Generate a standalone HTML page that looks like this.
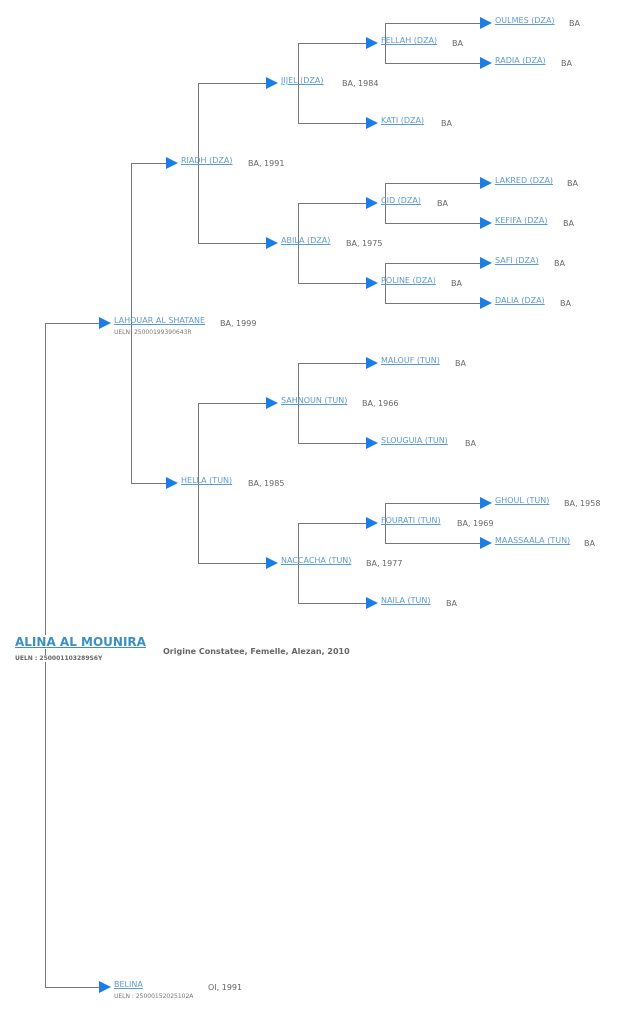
<!DOCTYPE html>
<html><head><meta charset="utf-8"><style>
body{margin:0;width:622px;height:1017px;background:#fff;position:relative;overflow:hidden;font-family:"DejaVu Sans","Liberation Sans",sans-serif}
.l{position:absolute;background:#777}
.a{position:absolute;width:0;height:0;border-top:6px solid transparent;border-bottom:6px solid transparent;border-left:12px solid #1a7ee6}
.n{position:absolute;font-size:8px;color:#5b9bd0;text-decoration:underline;white-space:nowrap;line-height:10px}
.s{position:absolute;font-size:8px;color:#666;white-space:nowrap;line-height:10px}
.u{position:absolute;font-size:6px;color:#777;white-space:nowrap}
</style></head><body>
<div id="c"></div>
<div style="position:absolute;left:13px;top:635px;background:#fff;font-size:12px;font-weight:bold;color:#3a8fc8;text-decoration:underline;padding:0 2px">ALINA AL MOUNIRA</div>
<div style="position:absolute;left:15px;top:655px;background:#fff;font-size:6px;font-weight:bold;color:#666">UELN : 250001103289S6Y</div>
<div style="position:absolute;left:163px;top:647px;font-size:8px;font-weight:bold;color:#666">Origine Constatee, Femelle, Alezan, 2010</div>
<script>
var h='';
function L(x,y,w,hh){h+='<div class="l" style="left:'+x+'px;top:'+y+'px;width:'+w+'px;height:'+hh+'px"></div>';}
function N(ax,cy,name,suf,sx,vx,sub){
 L(vx,cy,ax-vx,1);
 h+='<div class="a" style="left:'+ax+'px;top:'+(cy-6)+'px"></div>';
 h+='<div class="n" style="left:'+(ax+15)+'px;top:'+(cy-7)+'px">'+name+'</div>';
 h+='<div class="s" style="left:'+sx+'px;top:'+(cy-4)+'px">'+suf+'</div>';
 if(sub)h+='<div class="u" style="left:'+(ax+15)+'px;top:'+(cy+6)+'px">'+sub+'</div>';
}
L(45,323,1,665);
L(131,163,1,320);
L(198,83,1,160);L(198,403,1,160);
L(298,43,1,80);L(298,203,1,80);L(298,363,1,80);L(298,523,1,80);
L(385,23,1,40);L(385,183,1,40);L(385,263,1,40);L(385,503,1,40);
N(99,323,'LAHOUAR AL SHATANE','BA, 1999',220,45,'UELN: 25000199390643R');
N(99,987,'BELINA','OI, 1991',208,45,'UELN : 25000152025102A');
N(166,163,'RIADH (DZA)','BA, 1991',248,131);
N(166,483,'HELLA (TUN)','BA, 1985',248,131);
N(266,83,'JIJEL (DZA)','BA, 1984',342,198);
N(266,243,'ABILA (DZA)','BA, 1975',346,198);
N(266,403,'SAHNOUN (TUN)','BA, 1966',362,198);
N(266,563,'NACCACHA (TUN)','BA, 1977',366,198);
N(366,43,'FELLAH (DZA)','BA',452,298);
N(366,123,'KATI (DZA)','BA',441,298);
N(366,203,'CID (DZA)','BA',437,298);
N(366,283,'POLINE (DZA)','BA',451,298);
N(366,363,'MALOUF (TUN)','BA',455,298);
N(366,443,'SLOUGUIA (TUN)','BA',465,298);
N(366,523,'FOURATI (TUN)','BA, 1969',457,298);
N(366,603,'NAILA (TUN)','BA',446,298);
N(480,23,'OULMES (DZA)','BA',569,385);
N(480,63,'RADIA (DZA)','BA',561,385);
N(480,183,'LAKRED (DZA)','BA',567,385);
N(480,223,'KEFIFA (DZA)','BA',563,385);
N(480,263,'SAFI (DZA)','BA',554,385);
N(480,303,'DALIA (DZA)','BA',560,385);
N(480,503,'GHOUL (TUN)','BA, 1958',564,385);
N(480,543,'MAASSAALA (TUN)','BA',584,385);
document.getElementById('c').innerHTML=h;
</script>
</body></html>
